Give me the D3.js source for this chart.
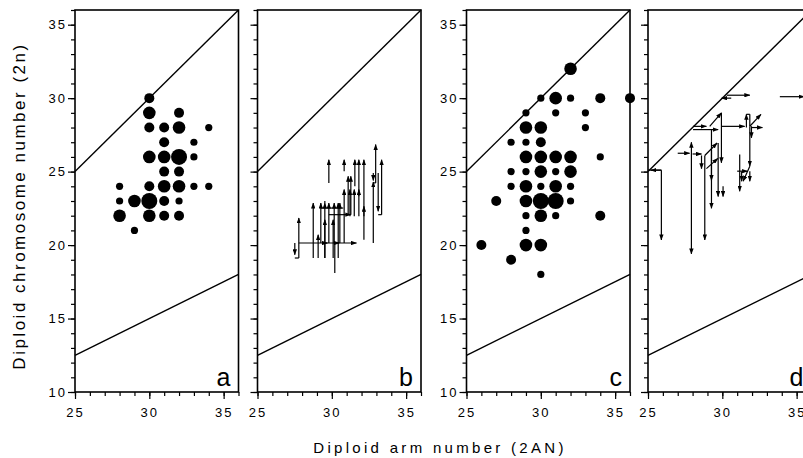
<!DOCTYPE html>
<html><head><meta charset="utf-8">
<script src="https://cdn.jsdelivr.net/npm/d3@7/dist/d3.min.js"></script>
<style>body{margin:0;background:#fff;overflow:hidden}</style>
</head><body>
<svg id="chart" width="803" height="458"></svg>
<script>
// ---------- data ----------
const panelNames = ["a", "b", "c", "d"];
const xMajorTicks = [25, 30, 35];
const yMajorTicks = [10, 15, 20, 25, 30, 35];
const xMinorTicks = [25, 26, 27, 28, 29, 30, 31, 32, 33, 34, 35, 36];
const yMinorTicks = [10,11,12,13,14,15,16,17,18,19,20,21,22,23,24,25,26,27,28,29,30,31,32,33,34,35,36];
const xDomain = [25, 36];
const yDomain = [10, 36];
// reference lines: 2n = 2AN and 2n = 2AN/2
const upperLine = [[25, 25], [36, 36]];
const lowerLine = [[25, 12.5], [36, 18]];

// panel a: dot positions and counts (size class)
const dotsA_x = [30,30,32,30,31,32,34,31,33,30,31,32,33,31,32,28,30,31,32,33,34,28,29,30,31,32,28,30,31,32,29];
const dotsA_y = [30,29,29,28,28,28,28,27,27,26,26,26,26,25,25,24,24,24,24,24,24,23,23,23,23,23,22,22,22,22,21];
const dotsA_n = [2,3,2,2,2,3,1,2,1,3,3,4,1,2,2,1,2,3,3,1,1,1,3,4,2,1,3,3,2,2,1];

// panel c: dot positions and counts (size class)
const dotsC_x = [32,30,31,32,34,36,29,31,33,29,30,33,28,29,30,29,30,31,32,34,28,29,30,31,32,28,29,30,31,32,27,29,30,31,32,29,30,31,34,29,26,29,30,28,30];
const dotsC_y = [32,30,30,30,30,30,29,29,29,28,28,28,27,27,27,26,26,26,26,26,25,25,25,25,25,24,24,24,24,24,23,23,23,23,23,22,22,22,22,21,20,20,20,19,18];
const dotsC_n = [3,1,3,1,2,2,1,1,1,3,3,1,1,1,2,3,3,3,3,1,1,1,3,1,3,1,3,1,3,1,2,3,4,4,1,1,3,1,2,1,2,3,3,2,1];

// panel b: arrows [x1, y1, x2, y2] (head at end) and plain connector lines
const arrowsB = [
  [27.51,20.14,27.51,19.35],[27.78,19.12,27.78,21.85],[27.78,20.14,31.66,20.14],
  [28.75,19.12,28.75,22.86],[29.08,19.12,29.08,20.71],[29.26,20.14,29.26,22.86],
  [29.53,19.12,29.53,22.86],[29.53,19.12,29.53,21.73],[29.80,20.14,29.80,22.86],
  [30.09,19.12,30.09,21.73],[30.16,20.14,30.16,22.86],[30.43,19.12,30.43,22.86],
  [30.54,20.14,30.54,22.86],[29.80,22.07,31.28,22.07],[30.83,20.14,30.83,23.78],
  [31.10,22.07,31.10,24.68],[31.28,22.07,31.28,24.68],[31.22,21.96,31.22,23.78],
  [31.51,21.96,31.51,23.78],[31.82,21.96,31.82,23.78],[29.80,24.23,29.80,25.81],
  [30.83,25.02,30.83,25.81],[31.55,24.00,31.55,25.81],[31.82,23.32,31.82,25.81],
  [32.16,21.96,32.16,25.81],[32.16,20.37,32.16,22.64],[32.95,24.23,32.95,26.84],
  [32.79,24.90,32.79,24.40],[32.79,20.14,32.79,24.30],[33.12,24.90,33.12,22.30],
  [33.35,22.07,33.35,25.81],[30.20,20.14,30.50,20.14],[29.40,20.14,29.70,20.14]
];
const linesB = [
  [27.51,19.12,27.78,19.12],[29.26,22.52,30.77,22.52],[30.20,20.14,30.20,18.10],
  [32.79,24.23,32.95,24.23],[33.12,22.07,33.35,22.07],[29.53,22.86,29.53,23.0]
];

// panel d: arrows [x1, y1, x2, y2] and plain connector lines
const arrowsD = [
  [25.90,25.10,25.20,25.10],[25.90,25.10,25.90,20.35],[27.00,26.25,27.80,26.25],
  [27.92,26.20,27.92,27.00],[27.92,26.20,27.92,19.40],[28.00,26.20,28.60,26.20],
  [28.60,26.10,28.60,25.20],[28.82,26.10,28.82,20.35],[28.82,26.10,29.65,26.95],
  [28.93,25.20,29.70,25.90],[29.27,26.50,29.27,22.50],[29.72,26.95,29.72,23.30],
  [30.05,24.00,30.05,23.30],[28.03,28.08,28.93,28.08],[28.03,27.86,29.72,27.86],
  [29.15,28.08,29.94,29.00],[29.94,29.00,29.94,25.60],[29.27,27.86,29.27,24.40],
  [29.94,28.08,31.50,28.08],[30.30,30.20,31.85,30.20],[30.60,30.00,29.95,30.00],
  [33.87,30.10,35.50,30.10],[31.62,28.00,31.62,28.90],[31.85,28.09,32.60,28.90],
  [31.96,28.00,32.70,28.00],[31.96,28.09,31.96,27.30],[31.85,28.09,31.85,25.37],
  [31.17,26.16,31.17,23.67],[31.00,25.03,31.70,25.03],[31.85,25.37,31.40,24.35],
  [31.85,25.03,31.85,24.35],[31.30,25.00,31.30,24.35]
];
const linesD = [
  [25.00,25.10,25.90,25.10],[31.62,28.90,31.85,28.90],[31.85,28.90,31.85,28.09]
];

// ---------- layout ----------
const svg = d3.select("#chart");
const panelLeft = [75, 257.5, 466.5, 648];
const panelW = 163.5;
const topY = 10, bottomY = 392;
const radius = [0, 3.6, 5, 6.3, 8];
const font = "'Liberation Sans', Arial, Helvetica, sans-serif";

const y = d3.scaleLinear().domain(yDomain).range([bottomY, topY]);

const defs = svg.append("defs");
defs.append("marker").attr("id", "ah")
  .attr("viewBox", "0 0 6 4.4").attr("markerUnits", "userSpaceOnUse")
  .attr("markerWidth", 6).attr("markerHeight", 4.4)
  .attr("refX", 5.5).attr("refY", 2.2).attr("orient", "auto")
  .append("path").attr("d", "M0,0 L6,2.2 L0,4.4 Z").attr("fill", "#000");

panelNames.forEach((name, i) => {
  const x = d3.scaleLinear().domain(xDomain).range([panelLeft[i], panelLeft[i] + panelW]);
  const g = svg.append("g");
  const showY = (i === 0 || i === 2);

  // minor ticks
  g.append("g").attr("transform", `translate(${panelLeft[i]},0)`)
    .call(d3.axisLeft(y).tickValues(yMinorTicks).tickSize(4).tickFormat(""))
    .call(a => a.select(".domain").remove());
  g.append("g").attr("transform", `translate(0,${bottomY})`)
    .call(d3.axisBottom(x).tickValues(xMinorTicks).tickSize(4).tickFormat(""))
    .call(a => a.select(".domain").remove());
  // major ticks
  const ya = g.append("g").attr("transform", `translate(${panelLeft[i]},0)`)
    .call(d3.axisLeft(y).tickValues(yMajorTicks).tickSize(7).tickPadding(1)
      .tickFormat(showY ? d3.format("d") : ""));
  ya.select(".domain").remove();
  const xa = g.append("g").attr("transform", `translate(0,${bottomY})`)
    .call(d3.axisBottom(x).tickValues(xMajorTicks).tickSize(7).tickPadding(9).tickFormat(d3.format("d")));
  xa.select(".domain").remove();
  g.selectAll(".tick line").attr("stroke", "#000").attr("stroke-width", 1.2);
  g.selectAll(".tick text").attr("font-family", font).attr("font-size", 13)
    .attr("letter-spacing", "2px").attr("fill", "#000");

  // frame
  g.append("rect").attr("x", panelLeft[i]).attr("y", topY)
    .attr("width", panelW).attr("height", bottomY - topY)
    .attr("fill", "none").attr("stroke", "#000").attr("stroke-width", 1.6);

  // reference lines
  const line = d3.line().x(d => x(d[0])).y(d => y(d[1]));
  [upperLine, lowerLine].forEach(l => {
    g.append("path").attr("d", line(l)).attr("fill", "none")
      .attr("stroke", "#000").attr("stroke-width", 1.4);
  });

  // dots
  if (name === "a" || name === "c") {
    const xs = name === "a" ? dotsA_x : dotsC_x;
    const ys = name === "a" ? dotsA_y : dotsC_y;
    const ns = name === "a" ? dotsA_n : dotsC_n;
    g.selectAll("circle.dot").data(xs.map((v, k) => [v, ys[k], ns[k]]))
      .join("circle").attr("class", "dot")
      .attr("cx", d => x(d[0])).attr("cy", d => y(d[1]))
      .attr("r", d => radius[d[2]]).attr("fill", "#000");
  }
  // arrows
  if (name === "b" || name === "d") {
    const arr = name === "b" ? arrowsB : arrowsD;
    const lns = name === "b" ? linesB : linesD;
    g.selectAll("line.ln").data(lns).join("line").attr("class", "ln")
      .attr("x1", d => x(d[0])).attr("y1", d => y(d[1]))
      .attr("x2", d => x(d[2])).attr("y2", d => y(d[3]))
      .attr("stroke", "#000").attr("stroke-width", 1.2);
    g.selectAll("line.arr").data(arr).join("line").attr("class", "arr")
      .attr("x1", d => x(d[0])).attr("y1", d => y(d[1]))
      .attr("x2", d => x(d[2])).attr("y2", d => y(d[3]))
      .attr("stroke", "#000").attr("stroke-width", 1.2)
      .attr("marker-end", "url(#ah)");
  }

  // panel letter
  g.append("text").attr("x", panelLeft[i] + panelW - 8).attr("y", 386)
    .attr("text-anchor", "end").attr("font-family", font).attr("font-size", 25)
    .text(name);
});

// axis titles
svg.append("text").attr("x", 440).attr("y", 453).attr("text-anchor", "middle")
  .attr("font-family", font).attr("font-size", 15).attr("letter-spacing", "3.3px")
  .text("Diploid arm number (2AN)");
svg.append("text").attr("transform", "translate(25,206) rotate(-90)")
  .attr("text-anchor", "middle").attr("font-family", font).attr("font-size", 17)
  .attr("letter-spacing", "2.5px")
  .text("Diploid chromosome number (2n)");
</script>
</body></html>
